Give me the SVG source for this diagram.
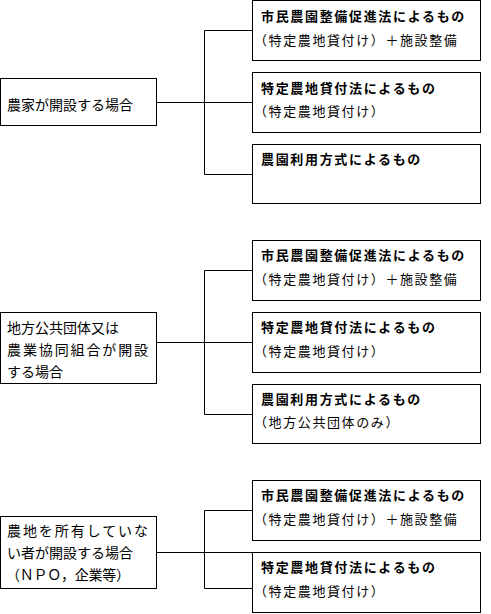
<svg xmlns="http://www.w3.org/2000/svg" width="491" height="614" viewBox="0 0 491 614">
<style>
.box{fill:#fff;stroke:#000;stroke-width:1}
.ln{fill:none;stroke:#000;stroke-width:1}
text{font-family:"Noto Sans CJK JP","Noto Sans CJK SC",sans-serif;fill:#000}
.t{font-size:13px;font-weight:bold;letter-spacing:1.67px}
.s{font-size:13px;letter-spacing:1.6px}
.l{font-size:14px}
</style>
<rect width="491" height="614" fill="#fff"/>
<g id="connectors">
<path class="ln" d="M156.5,102.5H252.5M204.5,30.5V174.5M204.5,30.5H252.5M204.5,174.5H252.5"/>
<path class="ln" d="M156.5,342.5H252.5M204.5,270.5V414.5M204.5,270.5H252.5M204.5,414.5H252.5"/>
<path class="ln" d="M156.5,552.5H252.5M204.5,510.5V588.5M204.5,510.5H252.5M204.5,588.5H252.5"/>
</g>
<g id="g1-left"><rect class="box" x="0.5" y="78.5" width="156" height="47"/><text class="l" x="7" y="110">農家が開設する場合</text></g>
<g id="g1-r1"><rect class="box" x="252.5" y="0.5" width="228" height="60"/><text class="t" x="261" y="21">市民農園整備促進法によるもの</text><text class="s" x="254" y="45">（特定農地貸付け）＋施設整備</text></g>
<g id="g1-r2"><rect class="box" x="252.5" y="72.5" width="228" height="60"/><text class="t" x="261" y="93">特定農地貸付法によるもの</text><text class="s" x="254" y="116">（特定農地貸付け）</text></g>
<g id="g1-r3"><rect class="box" x="252.5" y="144.5" width="228" height="59"/><text class="t" x="261" y="164">農園利用方式によるもの</text></g>

<g id="g2-left"><rect class="box" x="0.5" y="312.5" width="156" height="71"/><text class="l" x="7" y="333">地方公共団体又は</text><text class="l" x="7" y="355" textLength="141" lengthAdjust="spacing">農業協同組合が開設</text><text class="l" x="7" y="377">する場合</text></g>
<g id="g2-r1"><rect class="box" x="252.5" y="240.5" width="228" height="60"/><text class="t" x="261" y="260">市民農園整備促進法によるもの</text><text class="s" x="254" y="284">（特定農地貸付け）＋施設整備</text></g>
<g id="g2-r2"><rect class="box" x="252.5" y="312.5" width="228" height="60"/><text class="t" x="261" y="332">特定農地貸付法によるもの</text><text class="s" x="254" y="356">（特定農地貸付け）</text></g>
<g id="g2-r3"><rect class="box" x="252.5" y="384.5" width="228" height="59"/><text class="t" x="261" y="404">農園利用方式によるもの</text><text class="s" x="254" y="427">（地方公共団体のみ）</text></g>

<g id="g3-left"><rect class="box" x="0.5" y="516.5" width="156" height="72"/><text class="l" x="7" y="536" textLength="141" lengthAdjust="spacing">農地を所有していな</text><text class="l" x="7" y="558">い者が開設する場合</text><text class="l" x="6" y="580" textLength="124" lengthAdjust="spacing">（ＮＰＯ，企業等）</text></g>
<g id="g3-r1"><rect class="box" x="252.5" y="480.5" width="228" height="60"/><text class="t" x="261" y="500">市民農園整備促進法によるもの</text><text class="s" x="254" y="524">（特定農地貸付け）＋施設整備</text></g>
<g id="g3-r2"><rect class="box" x="252.5" y="552.5" width="228" height="60"/><text class="t" x="261" y="572">特定農地貸付法によるもの</text><text class="s" x="254" y="596">（特定農地貸付け）</text></g>
</svg>
